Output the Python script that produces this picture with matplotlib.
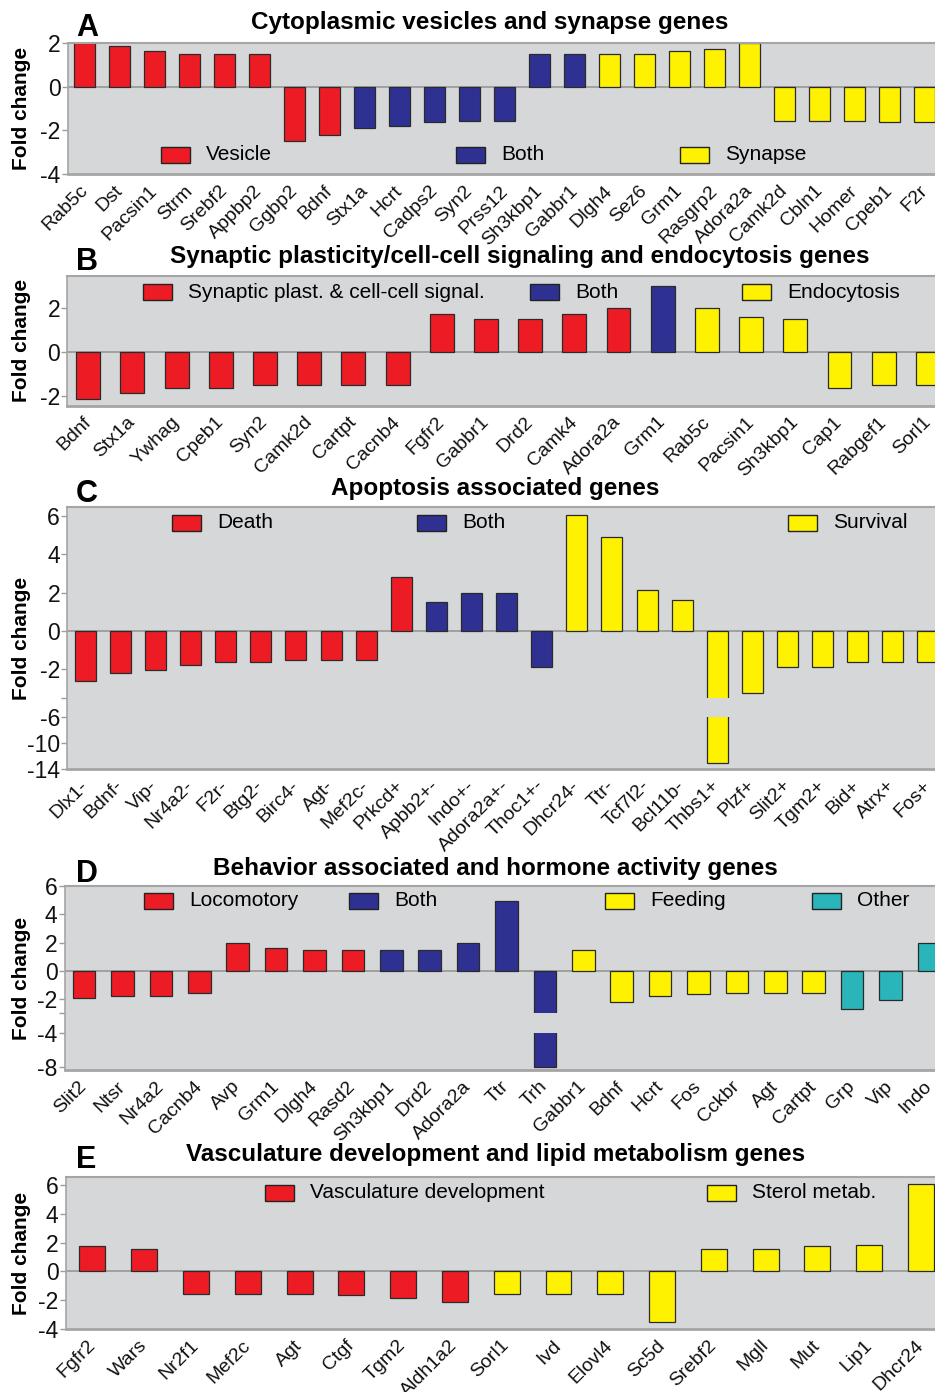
import numpy as np
import matplotlib
matplotlib.use("Agg")
import matplotlib.pyplot as plt
from matplotlib.patches import Rectangle

plt.rcParams['font.family'] = ['Liberation Sans', 'DejaVu Sans']

W, H = 935, 1392
BG = '#d6d7d9'
COL = {'r': '#ed1c24', 'b': '#2e3192', 'y': '#fff200', 't': '#2ab5ba'}

# ---- panel A data
genes_a = ['Rab5c', 'Dst', 'Pacsin1', 'Strm', 'Srebf2', 'Appbp2', 'Ggbp2', 'Bdnf',
           'Stx1a', 'Hcrt', 'Cadps2', 'Syn2', 'Prss12', 'Sh3kbp1', 'Gabbr1',
           'Dlgh4', 'Sez6', 'Grm1', 'Rasgrp2', 'Adora2a', 'Camk2d', 'Cbln1', 'Homer', 'Cpeb1', 'F2r']
vals_a = [2.0, 1.85, 1.6, 1.5, 1.5, 1.5, -2.5, -2.2,
          -1.9, -1.8, -1.6, -1.55, -1.55, 1.5, 1.5,
          1.5, 1.5, 1.6, 1.7, 2.0, -1.55, -1.55, -1.55, -1.6, -1.6]
cats_a = ['r'] * 8 + ['b'] * 7 + ['y'] * 10
legend_a = ['Vesicle', 'Both', 'Synapse']

# ---- panel B data
genes_b = ['Bdnf', 'Stx1a', 'Ywhag', 'Cpeb1', 'Syn2', 'Camk2d', 'Cartpt', 'Cacnb4', 'Fgfr2',
           'Gabbr1', 'Drd2', 'Camk4', 'Adora2a', 'Grm1', 'Rab5c', 'Pacsin1', 'Sh3kbp1',
           'Cap1', 'Rabgef1', 'Sorl1']
vals_b = [-2.15, -1.85, -1.62, -1.62, -1.5, -1.5, -1.5, -1.5, 1.75,
          1.52, 1.5, 1.74, 2.0, 3.0, 2.0, 1.6, 1.5,
          -1.62, -1.5, -1.5]
cats_b = ['r'] * 13 + ['b'] + ['y'] * 6
legend_b = ['Synaptic plast. & cell-cell signal.', 'Both', 'Endocytosis']

# ---- panel C data
genes_c = ['Dlx1-', 'Bdnf-', 'Vip-', 'Nr4a2-', 'F2r-', 'Btg2-', 'Birc4-', 'Agt-', 'Mef2c-', 'Prkcd+',
           'Apbb2+-', 'Indo+-', 'Adora2a+-', 'Thoc1+-',
           'Dhcr24-', 'Ttr-', 'Tcf7l2-', 'Bcl11b-', 'Thbs1+', 'Plzf+', 'Slit2+', 'Tgm2+', 'Bid+', 'Atrx+', 'Fos+']
vals_c = [-2.6, -2.18, -2.03, -1.77, -1.65, -1.65, -1.54, -1.54, -1.54, 2.82,
          1.5, 2.0, 2.0, -1.9,
          6.05, 4.93, 2.14, 1.62, -13.1, -3.25, -1.9, -1.9, -1.65, -1.65, -1.65]
cats_c = ['r'] * 10 + ['b'] * 4 + ['y'] * 11
legend_c = ['Death', 'Both', 'Survival']

# ---- panel D data
genes_d = ['Slit2', 'Ntsr', 'Nr4a2', 'Cacnb4', 'Avp', 'Grm1', 'Dlgh4', 'Rasd2',
           'Sh3kbp1', 'Drd2', 'Adora2a', 'Ttr', 'Trh',
           'Gabbr1', 'Bdnf', 'Hcrt', 'Fos', 'Cckbr', 'Agt', 'Cartpt', 'Grp', 'Vip', 'Indo']
vals_d = [-1.93, -1.77, -1.77, -1.55, 2.0, 1.6, 1.5, 1.5,
          1.5, 1.5, 2.0, 4.92, -8.0,
          1.5, -2.2, -1.78, -1.65, -1.55, -1.55, -1.55, -2.7, -2.07, 2.0]
cats_d = ['r'] * 8 + ['b'] * 5 + ['y'] * 7 + ['t'] * 3
legend_d = ['Locomotory', 'Both', 'Feeding', 'Other']

# ---- panel E data
genes_e = ['Fgfr2', 'Wars', 'Nr2f1', 'Mef2c', 'Agt', 'Ctgf', 'Tgm2', 'Aldh1a2',
           'Sorl1', 'Ivd', 'Elovl4', 'Sc5d', 'Srebf2', 'Mgll', 'Mut', 'Lip1', 'Dhcr24']
vals_e = [1.77, 1.56, -1.56, -1.56, -1.56, -1.65, -1.88, -2.15,
          -1.56, -1.56, -1.56, -3.52, 1.56, 1.56, 1.77, 1.86, 6.05]
cats_e = ['r'] * 8 + ['y'] * 9
legend_e = ['Vasculature development', 'Sterol metab.']


def broken(bt, bb, g, s):
    # squeeze the axis below bt: gap slope g between bb and bt, slope s below bb
    ub = bt - (bt - bb) * g

    def fwd(v):
        v = np.asarray(v, float)
        return np.where(v >= bt, v, np.where(v >= bb, bt - (bt - v) * g, ub - (bb - v) * s))

    def inv(u):
        u = np.asarray(u, float)
        return np.where(u >= bt, u, np.where(u >= ub, bt - (bt - u) / g, bb - (ub - u) / s))
    return fwd, inv


fig = plt.figure(figsize=(W / 100, H / 100), dpi=100)


def panel(box, genes, vals, cats, xlim, ylim, yticks, ylabels, width,
          letter, title, title_xy, leg_labels, leg_x, leg_y, brk=None):
    l, t, b = box
    ax = fig.add_axes([l / W, 1 - b / H, (W - l) / W, (b - t) / H])
    ax.set_facecolor(BG)
    if brk is not None:
        ax.set_yscale('function', functions=broken(*brk))
    x = np.arange(len(genes))
    colors = [COL[c] for c in cats]
    ax.bar(x, vals, width, color=colors, edgecolor='#2a2a2a', linewidth=0.9, zorder=2)
    if brk is not None:
        ax.axhspan(brk[1], brk[0], color=BG, lw=0, zorder=2.5)
    ax.axhline(0, color='#9c9c9c', lw=1.3, zorder=1.5)
    ax.set_xlim(*xlim)
    ax.set_ylim(*ylim)
    ax.set_yticks(yticks)
    ax.set_yticklabels(ylabels)
    ax.yaxis.set_minor_locator(plt.NullLocator())
    ax.set_xticks(x)
    ax.set_xticklabels(genes, rotation=45, ha='right', va='center', rotation_mode='anchor')
    ax.tick_params(axis='x', length=0, pad=10, labelsize=14, labelcolor='#111111')
    ax.tick_params(axis='y', length=4, width=1, color='#9c9c9c', pad=1, labelsize=16.5, labelcolor='#111111')
    for s in ['left', 'top', 'bottom']:
        ax.spines[s].set_color('#a5a5a5')
    ax.spines['left'].set_linewidth(1.2)
    ax.spines['top'].set_linewidth(1.5)
    ax.spines['bottom'].set_linewidth(2)
    ax.spines['right'].set_visible(False)
    ax.set_ylabel('Fold change', fontsize=15, fontweight='bold')
    ax.yaxis.set_label_coords((31 - l) / (W - l), 0.5)

    fig.text(title_xy[0] / W, 1 - title_xy[1] / H, title, ha='center', va='center',
             fontsize=17.5, fontweight='bold')
    fig.text(76 / W, 1 - (title_xy[1] + 6) / H, letter, ha='left', va='center',
             fontsize=22, fontweight='bold')
    for lab, c, lx in zip(leg_labels, ['r', 'b', 'y', 't'] if len(leg_labels) > 2 else ['r', 'y'], leg_x):
        fig.add_artist(Rectangle((lx / W, 1 - (leg_y + 8) / H), 29 / W, 16 / H,
                                 transform=fig.transFigure, facecolor=COL[c],
                                 edgecolor='#222222', lw=1))
        fig.text((lx + 45) / W, 1 - leg_y / H, lab, ha='left', va='center', fontsize=15)
    return ax


panel((67.5, 42.7, 174.3), genes_a, vals_a, cats_a, (-0.5, 24.29), (-4, 2),
      [2, 0, -2, -4], ['2', '0', '-2', '-4'], 0.6,
      'A', 'Cytoplasmic vesicles and synapse genes', (490, 22),
      legend_a, [161, 456, 680], 155)

panel((67, 276, 405.7), genes_b, vals_b, cats_b, (-0.48, 19.16), (-2.45, 3.47),
      [2, 0, -2], ['2', '0', '-2'], 0.54,
      'B', 'Synaptic plasticity/cell-cell signaling and endocytosis genes', (520, 256),
      legend_b, [143, 530, 742], 292)

panel((67, 506.7, 769.3), genes_c, vals_c, cats_c, (-0.52, 24.2), (-14, 6.5),
      [6, 4, 2, 0, -2, -3.5, -6, -10, -14], ['6', '4', '2', '0', '-2', '', '-6', '-10', '-14'], 0.6,
      'C', 'Apoptosis associated genes', (495, 488),
      legend_c, [172, 417, 788], 522.7, brk=(-3.5, -6, 0.41, 0.34))

panel((64.5, 886, 1070), genes_d, vals_d, cats_d, (-0.51, 22.16), (-8.4, 6.0),
      [6, 4, 2, 0, -2, -3, -4, -8], ['6', '4', '2', '0', '-2', '', '-4', '-8'], 0.59,
      'D', 'Behavior associated and hormone activity genes', (495, 868),
      legend_d, [144, 349, 605, 812], 901, brk=(-3, -4, 1.42, 0.59))

panel((65.5, 1177.3, 1329), genes_e, vals_e, cats_e, (-0.52, 16.27), (-4, 6.53),
      [6, 4, 2, 0, -2, -4], ['6', '4', '2', '0', '-2', '-4'], 0.5,
      'E', 'Vasculature development and lipid metabolism genes', (496, 1154),
      legend_e, [265, 707], 1192.7)

fig.savefig('out.png', dpi=100, facecolor='white')
